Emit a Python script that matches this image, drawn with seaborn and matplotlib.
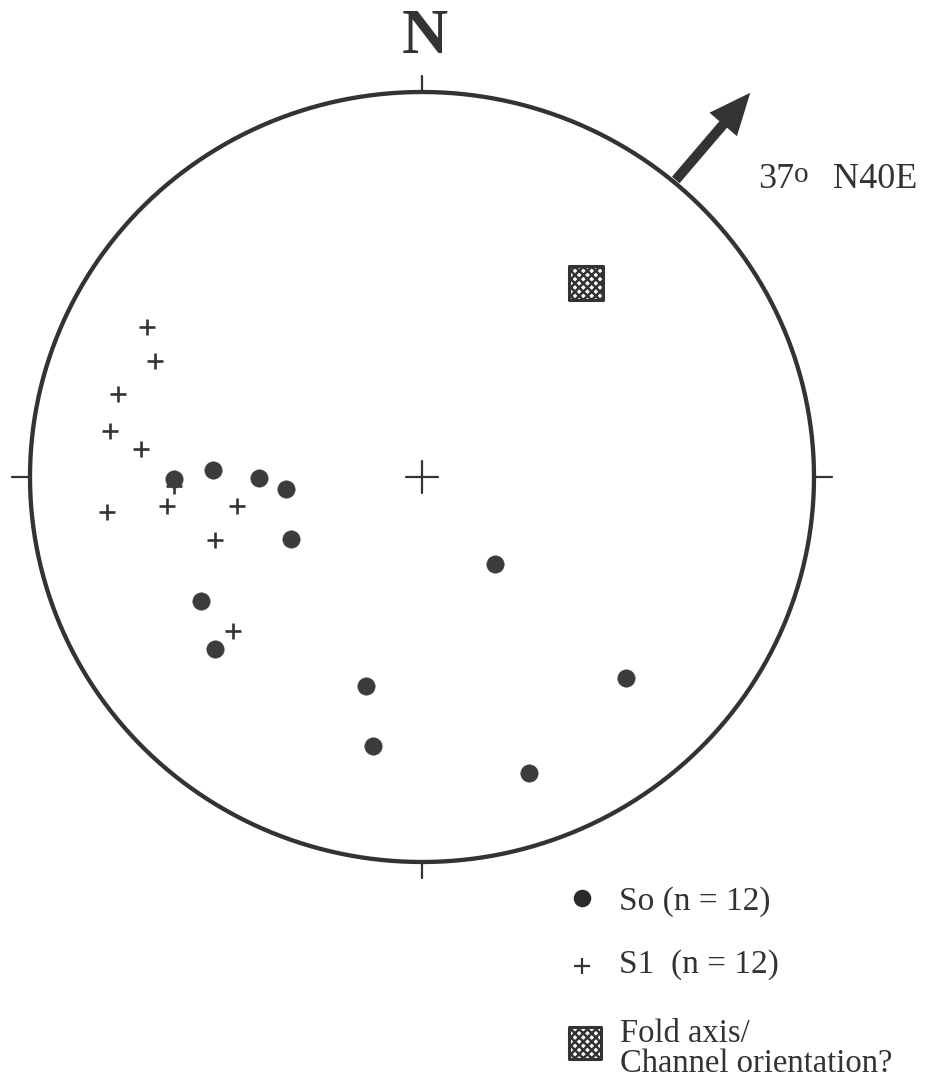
import numpy as np
import pandas as pd
import matplotlib
matplotlib.use("Agg")
import matplotlib.pyplot as plt
from matplotlib.patches import FancyArrowPatch
import seaborn as sns

# Poles plotted on the net, in net-radius units (x east, y north)
so_x = [-0.633, -0.533, -0.416, -0.347, -0.334, -0.564, -0.528, 0.186, 0.520, 0.273, -0.143, -0.125]
so_y = [-0.005, 0.018, -0.003, -0.031, -0.161, -0.322, -0.447, -0.226, -0.522, -0.769, -0.543, -0.699]

s1_x = [-0.633, -0.702, -0.681, -0.776, -0.796, -0.717, -0.804, -0.651, -0.472, -0.528, -0.482]
s1_y = [-0.023, 0.390, 0.301, 0.216, 0.119, 0.073, -0.091, -0.075, -0.075, -0.164, -0.400]

fold_x = [0.418]
fold_y = [0.504]

# Transport direction
arrow_plunge = 37
arrow_trend = 40

legend_labels = ["So (n = 12)", "S1  (n = 12)", "Fold axis/\nChannel orientation?"]

INK = "#333333"
W, H = 928, 1077
CX, CY, RX, RY = 422, 477, 392, 385   # net centre / radii in pixels


def px(x, y):
    """Pixel position -> net coordinates (axes fills the figure)."""
    return (x - CX) / RX, (CY - y) / RY


sns.set_theme(style="white")
plt.rcParams["font.family"] = ["Liberation Serif", "DejaVu Serif"]
plt.rcParams["hatch.linewidth"] = 1.8

fig = plt.figure(figsize=(W / 100, H / 100), dpi=100)
ax = fig.add_axes([0, 0, 1, 1])
ax.set_xlim(-CX / RX, (W - CX) / RX)
ax.set_ylim((CY - H) / RY, CY / RY)
ax.set_axis_off()

# Primitive circle
t = np.linspace(0, 2 * np.pi, 721)
ax.plot(np.cos(t), np.sin(t), color=INK, lw=3.1, solid_capstyle="round", zorder=2)

# Cardinal ticks outside the circle
tick_len_x = 18 / RX
tick_len_y = 16 / RY
ax.plot([0, 0], [1, 1 + tick_len_y], color=INK, lw=1.6)
ax.plot([0, 0], [-1, -1 - tick_len_y], color=INK, lw=1.6)
ax.plot([-1, -1 - tick_len_x], [0, 0], color=INK, lw=1.6)
ax.plot([1, 1 + tick_len_x], [0, 0], color=INK, lw=1.6)

# Centre cross
c = 16
ax.plot([-c / RX, c / RX], [0, 0], color=INK, lw=1.6)
ax.plot([0, 0], [-c / RY, c / RY], color=INK, lw=1.6)

# S1 poles
df1 = pd.DataFrame({"x": s1_x, "y": s1_y})
sns.scatterplot(data=df1, x="x", y="y", marker="+", s=135, color=INK,
                linewidth=1.9, ax=ax, zorder=3, legend=False)

# So poles
df0 = pd.DataFrame({"x": so_x, "y": so_y})
sns.scatterplot(data=df0, x="x", y="y", marker="o", s=155, color="#3c3c3c",
                edgecolor="#3c3c3c", linewidth=0.5, ax=ax, zorder=4, legend=False)

# Fold axis
dff = pd.DataFrame({"x": fold_x, "y": fold_y})
sns.scatterplot(data=dff, x="x", y="y", marker="s", s=620, facecolor="white",
                edgecolor=INK, linewidth=2.2, hatch="xxxx", ax=ax, zorder=4,
                legend=False)

# Arrow along the trend, leaving the primitive
az = np.radians(arrow_trend)
tail = (np.sin(az) * 1.0, np.cos(az) * 1.0)
head = (np.sin(az) * 1.31, np.cos(az) * 1.31)
arr = FancyArrowPatch(tail, head,
                      arrowstyle="simple,head_length=1.5,head_width=1.3,tail_width=0.36",
                      mutation_scale=20, color=INK, lw=0, zorder=5)
ax.add_patch(arr)

# Labels
def txt(x, y, s, va="baseline", **kw):
    ax.text(*px(x, y), s, color=INK, va=va, **kw)

txt(425, 53, "N", ha="center", fontsize=46, fontweight="bold")
txt(758, 188, f"{arrow_plunge}", ha="left", fontsize=26)
txt(794, 182, "o", ha="left", fontsize=21)
txt(833, 188, f"N{arrow_trend}E", ha="left", fontsize=26)

# Legend
ax.scatter(*px(582, 898), marker="o", s=135, color="#2a2a2a", zorder=5)
ax.scatter(*px(582, 966), marker="+", s=120, color=INK, linewidth=1.6, zorder=5)
ax.scatter(*px(585, 1043), marker="s", s=560, facecolor="white", edgecolor=INK,
           linewidth=2.2, hatch="xxxx", zorder=5)
txt(619, 910, legend_labels[0], ha="left", fontsize=24)
txt(619, 973, legend_labels[1], ha="left", fontsize=24)
txt(620, 1019, legend_labels[2], va="top", ha="left", fontsize=23.5,
    linespacing=0.95)

fig.savefig("out.png", dpi=100, facecolor="white")
